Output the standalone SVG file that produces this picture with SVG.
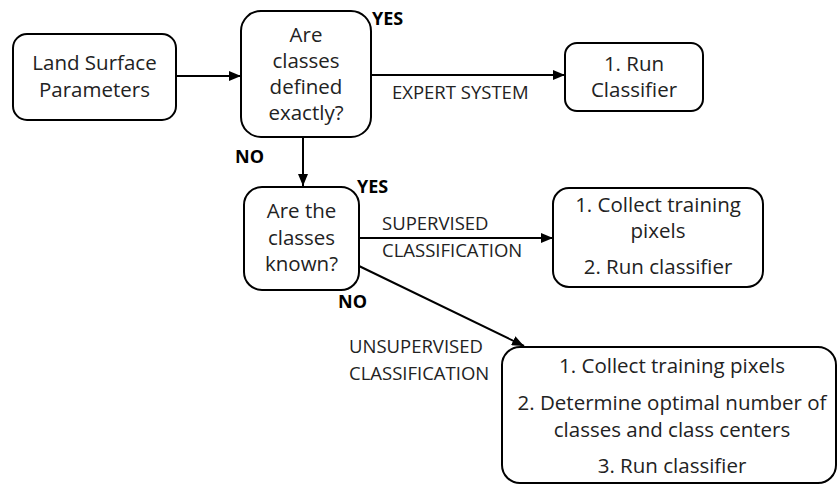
<svg xmlns="http://www.w3.org/2000/svg" width="838" height="486" viewBox="0 0 838 486">
<defs>
<marker id="ah" viewBox="0 0 12 10" refX="12" refY="5" markerWidth="12" markerHeight="10" markerUnits="userSpaceOnUse" orient="auto">
<path d="M0,0 L12,5 L0,10 Z" fill="#000"/>
</marker>
<style>
.box{fill:#fff;stroke:#000;stroke-width:2}
.t{font-family:"Open Sans","Liberation Sans",sans-serif;font-size:20.5px;fill:#222;text-anchor:middle}
.l{font-family:"Open Sans","Liberation Sans",sans-serif;font-size:18.5px;fill:#222}
.b{font-family:"Open Sans","Liberation Sans",sans-serif;font-size:18px;font-weight:bold;fill:#000}
.c{stroke:#000;stroke-width:2;fill:none;marker-end:url(#ah)}
</style>
</defs>
<rect width="838" height="486" fill="#fff"/>
<g id="connectors">
<line class="c" x1="176" y1="76" x2="241" y2="76"/>
<line class="c" x1="371" y1="75" x2="565" y2="75"/>
<line class="c" x1="303" y1="137" x2="303" y2="186"/>
<line class="c" x1="359" y1="238" x2="553" y2="238"/>
<line class="c" x1="359" y1="266" x2="524" y2="346"/>
</g>
<g id="labels">
<text class="b" x="372" y="25">YES</text>
<text class="b" x="235" y="163">NO</text>
<text class="b" x="357" y="193">YES</text>
<text class="b" x="338" y="308">NO</text>
<text class="l" x="392" y="99">EXPERT SYSTEM</text>
<text class="l" x="382" y="230">SUPERVISED</text>
<text class="l" x="382" y="257">CLASSIFICATION</text>
<text class="l" x="349" y="353">UNSUPERVISED</text>
<text class="l" x="349" y="380">CLASSIFICATION</text>
</g>
<g id="land">
<rect class="box" x="13" y="34" width="163" height="86" rx="14"/>
<text class="t" x="94.5" y="70">Land Surface</text>
<text class="t" x="94.5" y="97">Parameters</text>
</g>
<g id="q1">
<rect class="box" x="241" y="11" width="130" height="126" rx="20"/>
<text class="t" x="306" y="42">Are</text>
<text class="t" x="306" y="68">classes</text>
<text class="t" x="306" y="94">defined</text>
<text class="t" x="306" y="120">exactly?</text>
</g>
<g id="run1">
<rect class="box" x="565" y="43" width="138" height="68" rx="12"/>
<text class="t" x="634" y="71">1. Run</text>
<text class="t" x="634" y="97">Classifier</text>
</g>
<g id="q2">
<rect class="box" x="244" y="187" width="115" height="103" rx="18"/>
<text class="t" x="301.5" y="218">Are the</text>
<text class="t" x="301.5" y="245">classes</text>
<text class="t" x="301.5" y="271">known?</text>
</g>
<g id="sup">
<rect class="box" x="553" y="188" width="210" height="99" rx="16"/>
<text class="t" x="658" y="212">1. Collect training</text>
<text class="t" x="658" y="238">pixels</text>
<text class="t" x="658" y="274">2. Run classifier</text>
</g>
<g id="unsup">
<rect class="box" x="502" y="347" width="334" height="136" rx="18"/>
<text class="t" x="672" y="373">1. Collect training pixels</text>
<text class="t" x="672" y="410">2. Determine optimal number of</text>
<text class="t" x="672" y="437">classes and class centers</text>
<text class="t" x="672" y="473">3. Run classifier</text>
</g>
</svg>
